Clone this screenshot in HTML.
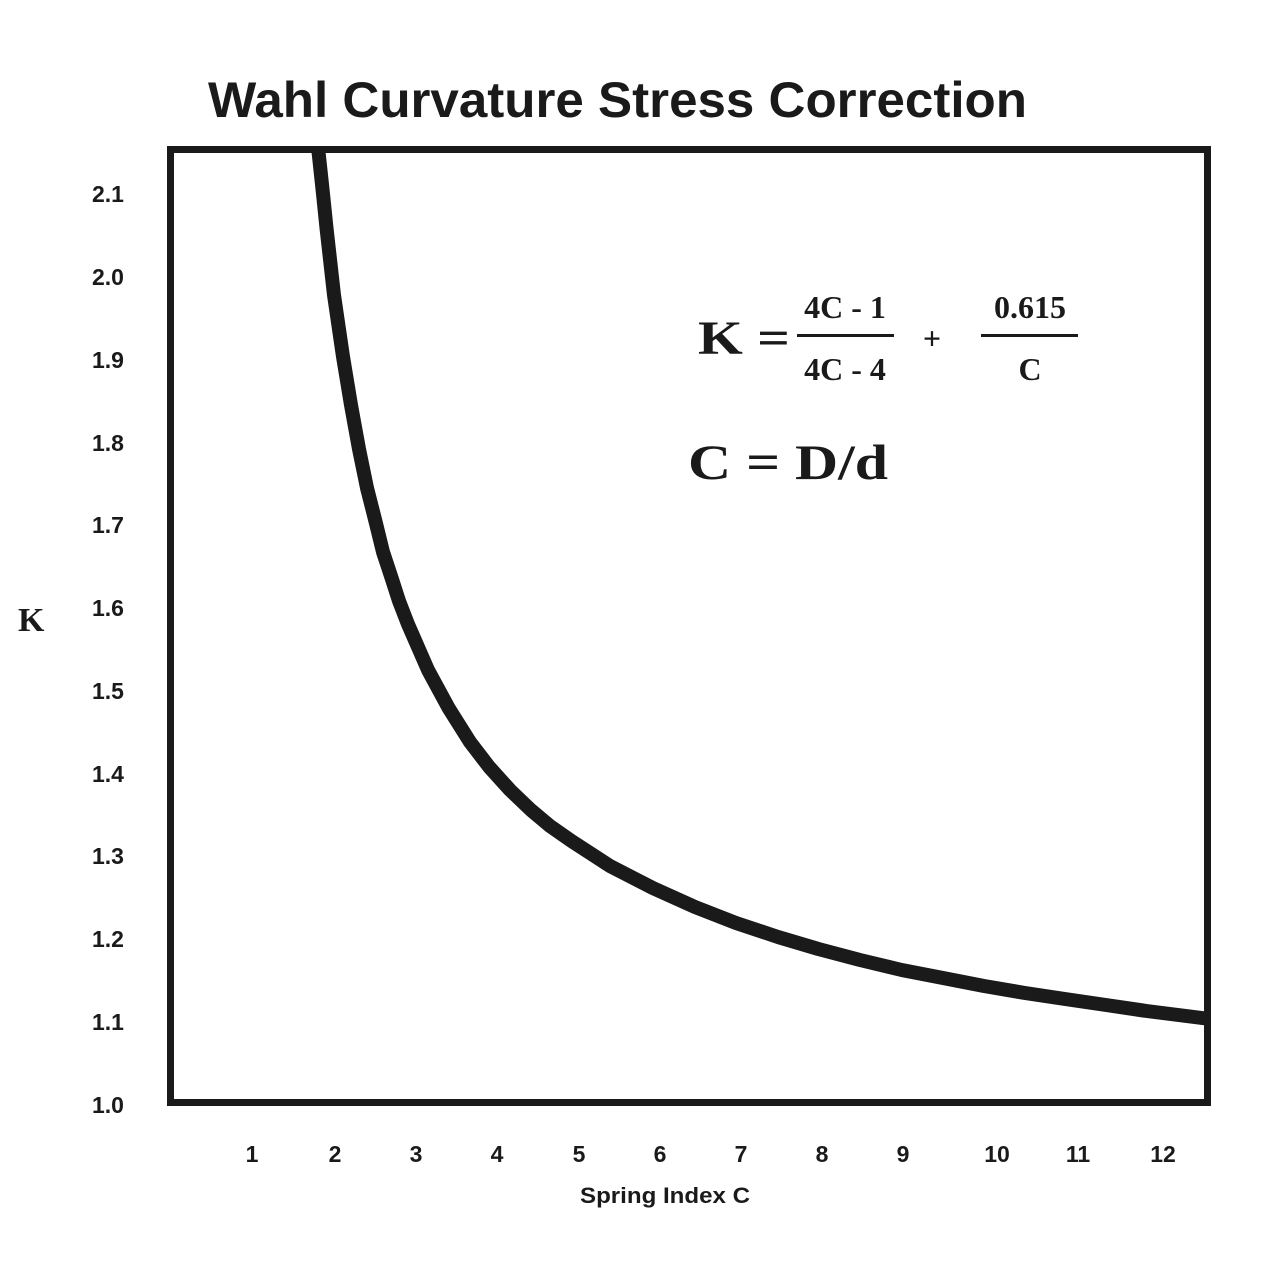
<!DOCTYPE html>
<html><head><style>html,body{margin:0;padding:0;background:#fff;}</style></head>
<body>
<svg width="1280" height="1280" viewBox="0 0 1280 1280" xmlns="http://www.w3.org/2000/svg">
<rect width="1280" height="1280" fill="#fff"/>
<text x="208" y="117" font-family="Liberation Sans, sans-serif" font-weight="bold" font-size="50" textLength="819" lengthAdjust="spacingAndGlyphs" fill="#1a1a1a">Wahl Curvature Stress Correction</text>
<defs><clipPath id="c"><rect x="170" y="149" width="1038" height="953"/></clipPath></defs>
<polyline clip-path="url(#c)" fill="none" stroke="#1a1a1a" stroke-width="14" stroke-linejoin="round"
points="313,120 318,147 322.6,190 326.6,229 334,295 342.9,356 351,405 359,449 367,488 375.4,521 383,552 391.6,578 399,601 407.9,624 428,670 448.6,708 470,742 489.2,767 510,790 530.9,810 550,826 571.5,841 610,866 652.8,888 695,907 736,923 778,937 818.4,949 860,960 901.7,970 943,978 984,986 1025,993 1065,999 1106,1005 1146.6,1011 1210,1019"/>
<rect x="170.5" y="149.5" width="1037" height="953" fill="none" stroke="#1a1a1a" stroke-width="7"/>
<g font-family="Liberation Sans, sans-serif" font-weight="bold" font-size="23" fill="#1a1a1a" text-anchor="middle">
<text x="108" y="202">2.1</text><text x="108" y="285">2.0</text><text x="108" y="368">1.9</text>
<text x="108" y="451">1.8</text><text x="108" y="533">1.7</text><text x="108" y="616">1.6</text>
<text x="108" y="699">1.5</text><text x="108" y="782">1.4</text><text x="108" y="864">1.3</text>
<text x="108" y="947">1.2</text><text x="108" y="1030">1.1</text><text x="108" y="1113">1.0</text>
<text x="252" y="1162">1</text><text x="335" y="1162">2</text><text x="416" y="1162">3</text>
<text x="497" y="1162">4</text><text x="579" y="1162">5</text><text x="660" y="1162">6</text>
<text x="741" y="1162">7</text><text x="822" y="1162">8</text><text x="903" y="1162">9</text>
<text x="997" y="1162">10</text><text x="1078" y="1162">11</text><text x="1163" y="1162">12</text>
<text x="665" y="1203" font-size="22" textLength="170" lengthAdjust="spacingAndGlyphs">Spring Index C</text>
</g>
<g font-family="Liberation Serif, serif" font-weight="bold" fill="#1a1a1a">
<text x="18" y="631" font-size="34">K</text>
<text x="698" y="354" font-size="48" textLength="92" lengthAdjust="spacingAndGlyphs">K =</text>
<text x="845" y="318" font-size="32" text-anchor="middle">4C - 1</text>
<rect x="797" y="334" width="97" height="3"/>
<text x="845" y="380" font-size="32" text-anchor="middle">4C - 4</text>
<text x="932" y="349" font-size="32" text-anchor="middle">+</text>
<text x="1030" y="318" font-size="32" text-anchor="middle">0.615</text>
<rect x="981" y="334" width="97" height="3"/>
<text x="1030" y="380" font-size="32" text-anchor="middle">C</text>
<text x="688" y="479" font-size="50" textLength="200" lengthAdjust="spacingAndGlyphs">C = D/d</text>
</g>
</svg>
</body></html>
